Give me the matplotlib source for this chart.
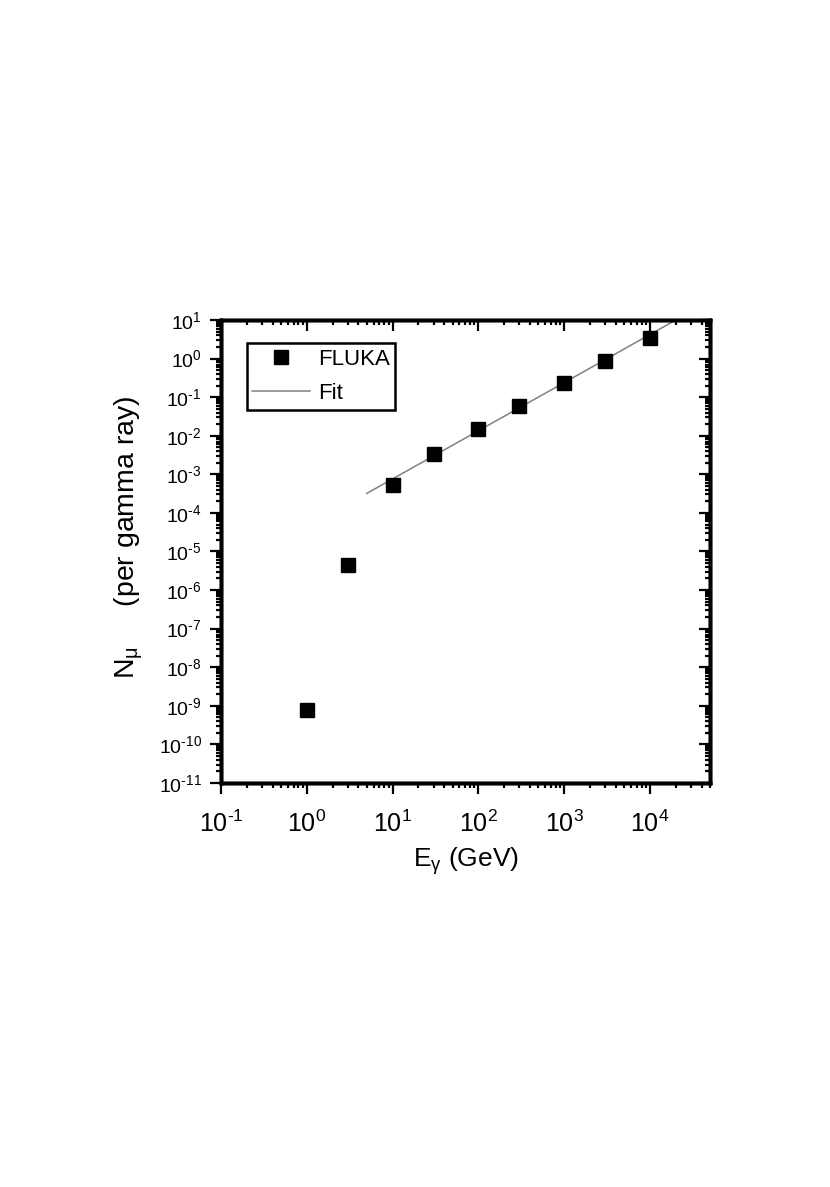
import numpy as np
import matplotlib
matplotlib.use("Agg")
import matplotlib.pyplot as plt
from matplotlib.ticker import LogLocator, FuncFormatter, NullFormatter

plt.rcParams['font.family'] = ['Liberation Sans', 'DejaVu Sans']
plt.rcParams['mathtext.fontset'] = 'custom'
plt.rcParams['mathtext.rm'] = 'Liberation Sans'
plt.rcParams['mathtext.it'] = 'Liberation Sans:italic'
plt.rcParams['mathtext.default'] = 'regular'
plt.rcParams['axes.unicode_minus'] = False

# FLUKA points
energy = [1, 3, 10, 30, 100, 300, 1000, 3000, 10000]
n_mu = [7.6e-10, 4.4e-6, 5.4e-4, 3.3e-3, 1.48e-2, 5.9e-2, 0.236, 0.89, 3.5]

# fit line end points
fit_e = [5.0, 2.0e4]
fit_n = [3.2e-4, 10.0]

xlim = (0.1, 5e4)
ylim = (1e-11, 10)

fig = plt.figure(figsize=(8.3, 11.87), dpi=100)
ax = fig.add_axes([0.2663, 0.3404, 0.589, 0.39])

ax.plot(fit_e, fit_n, '-', color='#808080', lw=1.1, label='Fit', zorder=2)
ax.plot(energy, n_mu, 's', color='black', ms=9.5, label='FLUKA', zorder=3)


def pow_label(v, pos):
    e = int(round(np.log10(v)))
    s = str(e).replace('-', '\u2010')  # short hyphen like the original
    return r'$10^{%s}$' % s


def log_ticks(axis):
    axis.set_major_locator(LogLocator(base=10, numticks=20))
    axis.set_minor_locator(LogLocator(base=10, subs=np.arange(2, 10), numticks=20))
    axis.set_minor_formatter(NullFormatter())


ax.set_xscale('log')
ax.set_yscale('log')
ax.set_xlim(*xlim)
ax.set_ylim(*ylim)
log_ticks(ax.xaxis)
log_ticks(ax.yaxis)
ax.xaxis.set_major_formatter(FuncFormatter(pow_label))
ax.yaxis.set_major_formatter(FuncFormatter(pow_label))

for s in ax.spines.values():
    s.set_linewidth(2.5)

# bottom/left ticks point out, top/right point in (Origin style)
ax.tick_params(which='both', direction='out', width=1.6)
ax.tick_params(which='major', length=8)
ax.tick_params(which='minor', length=3.5)
ax.tick_params(axis='x', which='major', labelsize=18, pad=12)
ax.tick_params(axis='y', which='major', labelsize=14, pad=6)

# mirrored ticks on top and right
tx = ax.twiny()
tx.set_xscale('log')
tx.set_xlim(*xlim)
log_ticks(tx.xaxis)
tx.xaxis.set_major_formatter(NullFormatter())
tx.tick_params(axis='x', which='both', direction='in', width=1.6)
tx.tick_params(axis='x', which='major', length=8)
tx.tick_params(axis='x', which='minor', length=3.5)

ty = ax.twinx()
ty.set_yscale('log')
ty.set_ylim(*ylim)
log_ticks(ty.yaxis)
ty.yaxis.set_major_formatter(NullFormatter())
ty.tick_params(axis='y', which='both', direction='in', width=1.6)
ty.tick_params(axis='y', which='major', length=8)
ty.tick_params(axis='y', which='minor', length=3.5)

for t in (tx, ty):
    for s in t.spines.values():
        s.set_linewidth(2.5)

ax.set_xlabel(r'E$_{\gamma}$ (GeV)', fontsize=19, labelpad=6)
ax.set_ylabel(r'N$_{\mu}$     (per gamma ray)', fontsize=20.5, labelpad=10)
ax.yaxis.label.set_y(0.53)

h, l = ax.get_legend_handles_labels()
leg = ty.legend(h[::-1], l[::-1], loc='upper left', bbox_to_anchor=(0.053, 0.95),
                borderaxespad=0, fontsize=16, frameon=True, fancybox=False,
                edgecolor='black', framealpha=1, handlelength=2.6,
                handletextpad=0.35, borderpad=0.25, labelspacing=0.6)
leg.get_frame().set_linewidth(1.8)

fig.savefig('out.png', dpi=100)
